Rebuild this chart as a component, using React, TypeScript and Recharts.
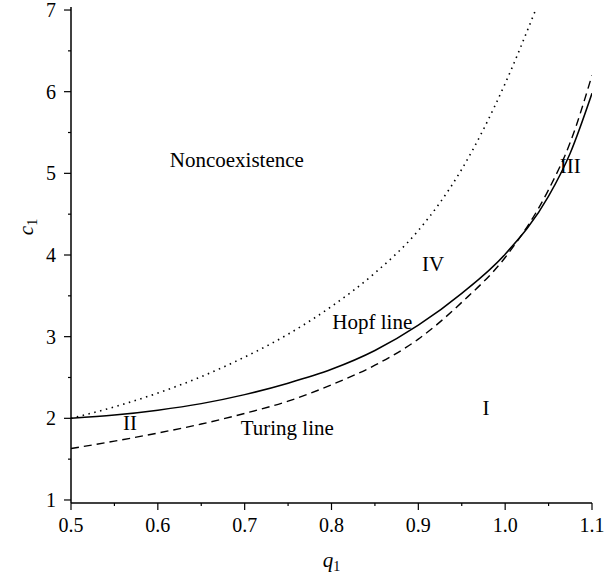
import { LineChart, Line, XAxis, YAxis, ReferenceDot, Label } from "recharts";

const SERIF = "'Liberation Serif', 'DejaVu Serif', serif";

// q1 values and c1
const qGrid = [0.5, 0.55, 0.6, 0.65, 0.7, 0.75, 0.8, 0.85, 0.9, 0.95, 1.0, 1.05, 1.075, 1.1];
const hopfC = [2.0, 2.04, 2.1, 2.18, 2.29, 2.43, 2.6, 2.83, 3.14, 3.53, 4.01, 4.72, 5.25, 5.98];
const turingC = [1.63, 1.72, 1.82, 1.93, 2.06, 2.21, 2.41, 2.65, 2.97, 3.42, 3.97, 4.8, 5.38, 6.2];

const qDotted = [0.5, 0.55, 0.6, 0.65, 0.7, 0.75, 0.8, 0.85, 0.9, 0.95, 1.0, 1.035];
const dottedC = [2.0, 2.14, 2.31, 2.51, 2.75, 3.03, 3.37, 3.78, 4.3, 5.05, 6.1, 7.0];

const xTicks = [0.5, 0.55, 0.6, 0.65, 0.7, 0.75, 0.8, 0.85, 0.9, 0.95, 1.0, 1.05, 1.1];
const yTicks = [1, 1.5, 2, 2.5, 3, 3.5, 4, 4.5, 5, 5.5, 6, 6.5, 7];

const regionNames = ["Noncoexistence", "IV", "Hopf line", "II", "Turing line", "I", "III"];
const regionQ = [0.691, 0.917, 0.847, 0.568, 0.749, 0.978, 1.075];
const regionC = [5.17, 3.9, 3.19, 1.95, 1.89, 2.13, 5.09];

const hopfData = qGrid.map((q, i) => ({ q, c: hopfC[i] }));
const turingData = qGrid.map((q, i) => ({ q, c: turingC[i] }));
const dottedData = qDotted.map((q, i) => ({ q, c: dottedC[i] }));

const XTick = (props: any) => {
  const { x, y, payload } = props;
  const v = payload.value;
  const major = Math.round(v * 100) % 10 === 0;
  return (
    <g>
      <line x1={x} x2={x} y1={y} y2={y + (major ? 7 : 3)} stroke="#000" strokeWidth={1.2} />
      {major && (
        <text x={x} y={y + 29} textAnchor="middle" fontSize={20} fontFamily={SERIF} fill="#000">
          {v.toFixed(1)}
        </text>
      )}
    </g>
  );
};

const YTick = (props: any) => {
  const { x, y, payload } = props;
  const v = payload.value;
  const major = Number.isInteger(v);
  return (
    <g>
      <line x1={x} x2={x - (major ? 7 : 3)} y1={y} y2={y} stroke="#000" strokeWidth={1.2} />
      {major && (
        <text x={x - 15} y={y + 7} textAnchor="end" fontSize={20} fontFamily={SERIF} fill="#000">
          {v}
        </text>
      )}
    </g>
  );
};

export default function App() {
  return (
    <div style={{ position: "absolute", left: 0, top: 0, background: "#fff" }}>
      <LineChart width={607} height={575} margin={{ top: 7, right: 15, bottom: 0, left: 0 }}>
        <XAxis
          dataKey="q"
          type="number"
          domain={[0.5, 1.1]}
          ticks={xTicks}
          tick={<XTick />}
          tickLine={false}
          tickSize={0}
          tickMargin={0}
          height={72}
          axisLine={{ stroke: "#000", strokeWidth: 1.5 }}
          allowDataOverflow
        >
          <Label
            content={(p: any) => {
              const vb = p.viewBox;
              const cx = vb.x + vb.width / 2;
              return (
                <text x={cx} y={vb.y + 64} textAnchor="middle" fontSize={21} fontFamily={SERIF} fill="#000">
                  <tspan fontStyle="italic">q</tspan>
                  <tspan fontSize={14} dy={4}>1</tspan>
                </text>
              );
            }}
          />
        </XAxis>
        <XAxis
          xAxisId="top"
          orientation="top"
          type="number"
          domain={[0.5, 1.1]}
          height={0}
          tick={false}
          tickLine={false}
          axisLine={{ stroke: "#000", strokeWidth: 1.5 }}
        />
        <YAxis
          type="number"
          domain={[0.963, 7.037]}
          ticks={yTicks}
          tick={<YTick />}
          tickLine={false}
          tickSize={0}
          tickMargin={0}
          width={71}
          axisLine={{ stroke: "#000", strokeWidth: 1.5 }}
          allowDataOverflow
        >
          <Label
            content={(p: any) => {
              const vb = p.viewBox;
              const cy = vb.y + vb.height / 2 - 28;
              const cx = 33;
              return (
                <text
                  x={cx}
                  y={cy}
                  textAnchor="middle"
                  fontSize={21}
                  fontFamily={SERIF}
                  fill="#000"
                  transform={`rotate(-90, ${cx}, ${cy})`}
                >
                  <tspan fontStyle="italic">c</tspan>
                  <tspan fontSize={14} dy={4}>1</tspan>
                </text>
              );
            }}
          />
        </YAxis>
        <YAxis
          yAxisId="right"
          orientation="right"
          type="number"
          domain={[0.963, 7.037]}
          width={0}
          tick={false}
          tickLine={false}
          axisLine={{ stroke: "#000", strokeWidth: 1.5 }}
        />
        <Line
          data={dottedData}
          dataKey="c"
          type="monotone"
          stroke="#000"
          strokeWidth={1.6}
          strokeDasharray="1.5 4.5"
          dot={false}
          isAnimationActive={false}
        />
        <Line
          data={turingData}
          dataKey="c"
          type="monotone"
          stroke="#000"
          strokeWidth={1.4}
          strokeDasharray="8 5"
          dot={false}
          isAnimationActive={false}
        />
        <Line
          data={hopfData}
          dataKey="c"
          type="monotone"
          stroke="#000"
          strokeWidth={1.5}
          dot={false}
          isAnimationActive={false}
        />
        {regionNames.map((name, i) => (
          <ReferenceDot
            key={name}
            x={regionQ[i]}
            y={regionC[i]}
            r={1}
            fill="none"
            stroke="none"
            label={{ value: name, position: "center", fontSize: 21, fontFamily: SERIF, fill: "#000" }}
          />
        ))}
      </LineChart>
    </div>
  );
}
